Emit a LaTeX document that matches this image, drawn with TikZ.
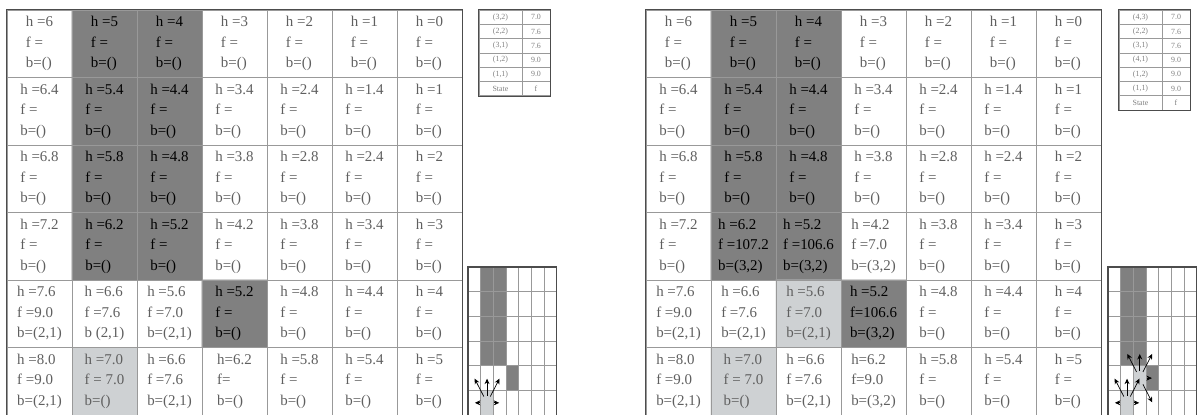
\documentclass[tikz,border=0pt]{standalone}
\usepackage{fontspec}
\setmainfont{Liberation Serif}
\usetikzlibrary{arrows.meta,backgrounds}
\definecolor{wallgray}{RGB}{128,128,128}
\definecolor{opengray}{RGB}{206,209,211}
\definecolor{txtgray}{RGB}{95,95,95}
\tikzset{
  cell/.style={draw=gray!80,minimum width=13mm,minimum height=13.5mm,inner sep=0pt,align=left,text=txtgray,font=\fontsize{8.5}{11.6}\selectfont},
  rim/.style ={draw=black!70,line width=0.9pt},
  okey/.style={draw=gray!80,minimum width=8.6mm,minimum height=2.86mm,inner sep=0pt,text=gray,font=\fontsize{4.5}{5}\selectfont},
  oval/.style={draw=gray!80,minimum width=5.6mm,minimum height=2.86mm,inner sep=0pt,text=gray,font=\fontsize{4.5}{5}\selectfont},
  thin line/.style={draw=gray!80,line width=0.4pt},
  bp/.style  ={-{Stealth[length=1.1mm,width=1mm]},black,line width=0.4pt,shorten <=4pt,shorten >=0.3pt},
}
% text colour of a cell: black on the walls between columns #1 and #2
\newcommand\settc[2]{\ifnum\c<#1 \def\tc{txtgray}\else\ifnum\c>#2 \def\tc{txtgray}\else\def\tc{black}\fi\fi}

\begin{document}
\begin{tikzpicture}[x=0.02cm,y=-0.02cm]
  \useasboundingbox (0,0) rectangle (1200,415);

  % ---- left grid: rows 1-4 not touched yet
  \foreach \hs [count=\r] in {{6,5,4,3,2,1,0},{6.4,5.4,4.4,3.4,2.4,1.4,1},{6.8,5.8,4.8,3.8,2.8,2.4,2},{7.2,6.2,5.2,4.2,3.8,3.4,3}}
    \foreach \h [count=\c] in \hs {
      \settc{2}{3}
      \node[cell,text=\tc] (l\r\c) at (65*\c-25.5,67.5*\r-23.75) {h =\h\\f =\\b=()};
    }
  \foreach \vh/\vf/\vb [count=\c] in {{h =7.6}/{f =9.0}/{b=(2,1)},{h =6.6}/{f =7.6}/{b (2,1)},{h =5.6}/{f =7.0}/{b=(2,1)},{h =5.2}/{f =}/{b=()},{h =4.8}/{f =}/{b=()},{h =4.4}/{f =}/{b=()},{h =4}/{f =}/{b=()}}{
    \settc{4}{4}
    \node[cell,text=\tc] (l5\c) at (65*\c-25.5,313.75) {\vh\\\vf\\\vb};
  }
  \foreach \vh/\vf/\vb [count=\c] in {{h =8.0}/{f =9.0}/{b=(2,1)},{h =7.0}/{f = 7.0}/{b=()},{h =6.6}/{f =7.6}/{b=(2,1)},{h=6.2}/{f=}/{b=()},{h =5.8}/{f =}/{b=()},{h =5.4}/{f =}/{b=()},{h =5}/{f =}/{b=()}}
    \node[cell] (l6\c) at (65*\c-25.5,381.25) {\vh\\\vf\\\vb};
  \draw[rim] (l11.north west) rectangle (l67.south east);

  % ---- right grid: one step later
  \foreach \hs [count=\r] in {{6,5,4,3,2,1,0},{6.4,5.4,4.4,3.4,2.4,1.4,1},{6.8,5.8,4.8,3.8,2.8,2.4,2}}
    \foreach \h [count=\c] in \hs {
      \settc{2}{3}
      \node[cell,text=\tc] (r\r\c) at (65*\c+613.5,67.5*\r-23.75) {h =\h\\f =\\b=()};
    }
  \foreach \vh/\vf/\vb [count=\c] in {{h =7.2}/{f =}/{b=()},{h =6.2}/{f =107.2}/{b=(3,2)},{h =5.2}/{f =106.6}/{b=(3,2)},{h =4.2}/{f =7.0}/{b=(3,2)},{h =3.8}/{f =}/{b=()},{h =3.4}/{f =}/{b=()},{h =3}/{f =}/{b=()}}{
    \settc{2}{3}
    \node[cell,text=\tc] (r4\c) at (65*\c+613.5,246.25) {\vh\\\vf\\\vb};
  }
  \foreach \vh/\vf/\vb [count=\c] in {{h =7.6}/{f =9.0}/{b=(2,1)},{h =6.6}/{f =7.6}/{b=(2,1)},{h =5.6}/{f =7.0}/{b=(2,1)},{h =5.2}/{f=106.6}/{b=(3,2)},{h =4.8}/{f =}/{b=()},{h =4.4}/{f =}/{b=()},{h =4}/{f =}/{b=()}}{
    \settc{4}{4}
    \node[cell,text=\tc] (r5\c) at (65*\c+613.5,313.75) {\vh\\\vf\\\vb};
  }
  \foreach \vh/\vf/\vb [count=\c] in {{h =8.0}/{f =9.0}/{b=(2,1)},{h =7.0}/{f = 7.0}/{b=()},{h =6.6}/{f =7.6}/{b=(2,1)},{h=6.2}/{f=9.0}/{b=(3,2)},{h =5.8}/{f =}/{b=()},{h =5.4}/{f =}/{b=()},{h =5}/{f =}/{b=()}}
    \node[cell] (r6\c) at (65*\c+613.5,381.25) {\vh\\\vf\\\vb};
  \draw[rim] (r11.north west) rectangle (r67.south east);

  % shading of walls and open cells
  \begin{scope}[on background layer]
    \fill[wallgray] (l12.north west) rectangle (l43.south east) (l54.north west) rectangle (l54.south east);
    \fill[opengray] (l62.north west) rectangle (l62.south east);
    \fill[wallgray] (r12.north west) rectangle (r43.south east) (r54.north west) rectangle (r54.south east);
    \fill[opengray] (r53.north west) rectangle (r53.south east) (r62.north west) rectangle (r62.south east);
  \end{scope}

  % ---- open lists
  \foreach \s/\v [count=\i] in {{(3,2)}/7.0,{(2,2)}/7.6,{(3,1)}/7.6,{(1,2)}/9.0,{(1,1)}/9.0,State/f}{
    \node[okey] (lk\i) at (500.5,14.3*\i+2.85) {\s};
    \node[oval] (lv\i) at (536,14.3*\i+2.85) {\v};
  }
  \draw[rim,line width=0.6pt] (lk1.north west) rectangle (lv6.south east);
  \foreach \s/\v [count=\i] in {{(4,3)}/7.0,{(2,2)}/7.6,{(3,1)}/7.6,{(4,1)}/9.0,{(1,2)}/9.0,{(1,1)}/9.0,State/f}{
    \node[okey] (rk\i) at (1140.5,14.3*\i+2.85) {\s};
    \node[oval] (rv\i) at (1176,14.3*\i+2.85) {\v};
  }
  \draw[rim,line width=0.6pt] (rk1.north west) rectangle (rv7.south east);

  % ---- small maps with back pointers
  \begin{scope}[shift={(468,267)},x=0.254cm,y=-0.494cm]
    \fill[wallgray] (1,0) rectangle (3,4) (3,4) rectangle (4,5);
    \fill[opengray] (1,5) rectangle (2,6);
    \foreach \c in {1,...,6} \draw[thin line] (\c,0) -- (\c,6);
    \foreach \r in {1,...,5} \draw[thin line] (0,\r) -- (7,\r);
    \draw[rim,line width=0.6pt] (0,0) rectangle (7,6);
    \foreach \c in {1,...,7} \foreach \r in {1,...,6} \coordinate (lm\c\r) at (\c-0.5,6.5-\r);
    \foreach \k in {11,31,12,22,32} \draw[bp] (lm21) -- (lm\k);
  \end{scope}
  \begin{scope}[shift={(1108,267)},x=0.254cm,y=-0.494cm]
    \fill[wallgray] (1,0) rectangle (3,4) (3,4) rectangle (4,5);
    \fill[opengray] (2,4) rectangle (3,5) (1,5) rectangle (2,6);
    \foreach \c in {1,...,6} \draw[thin line] (\c,0) -- (\c,6);
    \foreach \r in {1,...,5} \draw[thin line] (0,\r) -- (7,\r);
    \draw[rim,line width=0.6pt] (0,0) rectangle (7,6);
    \foreach \c in {1,...,7} \foreach \r in {1,...,6} \coordinate (rm\c\r) at (\c-0.5,6.5-\r);
    \foreach \k in {11,31,12,22,32} \draw[bp] (rm21) -- (rm\k);
    \foreach \k in {23,33,43,42,41} \draw[bp] (rm32) -- (rm\k);
  \end{scope}
\end{tikzpicture}
\end{document}
